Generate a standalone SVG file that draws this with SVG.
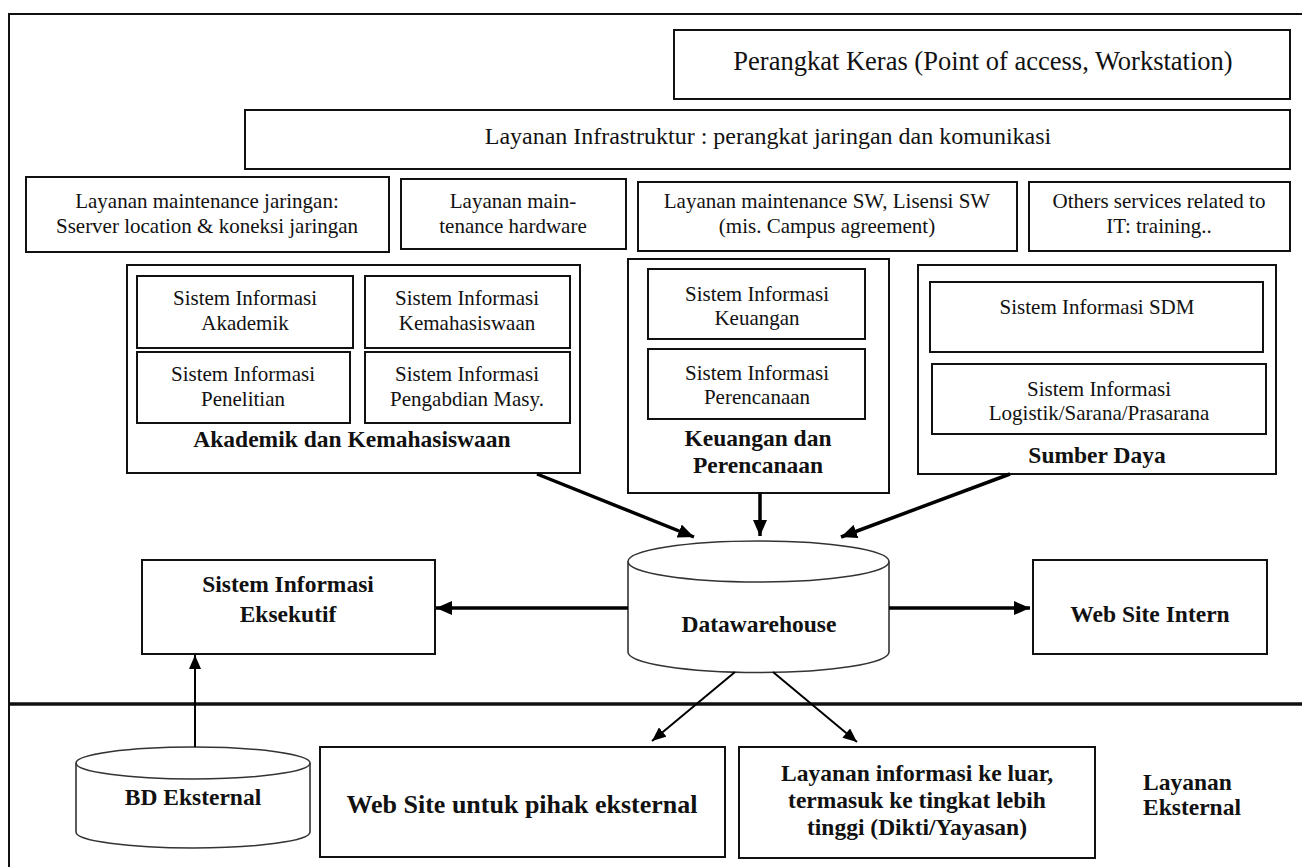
<svg xmlns="http://www.w3.org/2000/svg" width="1302" height="867" viewBox="0 0 1302 867">
<style>
  text { font-family: "Liberation Serif", "Times New Roman", serif; fill: #111; text-anchor: middle; }
  .r { font-size: 21px; }
  .b { font-size: 23.5px; font-weight: bold; }
  .box { fill: #fff; stroke: #111; stroke-width: 2; }
  .cyl { fill: #fff; stroke: #333; stroke-width: 1.6; }
  .thick { stroke: #000; stroke-width: 3.5; fill: none; marker-end: url(#ah); }
  .thin { stroke: #000; stroke-width: 2; fill: none; marker-end: url(#ahs); }
</style>
<defs>
  <marker id="ah" markerUnits="userSpaceOnUse" markerWidth="16" markerHeight="14" refX="16" refY="7" orient="auto">
    <path d="M0,0 L16,7 L0,14 z" fill="#000"/>
  </marker>
  <marker id="ahs" markerUnits="userSpaceOnUse" markerWidth="14" markerHeight="12" refX="14" refY="6" orient="auto">
    <path d="M0,0 L14,6 L0,12 z" fill="#000"/>
  </marker>
</defs>
<rect width="1302" height="867" fill="#fff"/>

<g id="frame" stroke="#111" fill="none">
  <path d="M9,867 V14 H1302" stroke-width="2"/>
  <line x1="9" y1="704" x2="1302" y2="704" stroke-width="3.5"/>
</g>

<g id="perangkat-keras">
  <rect class="box" x="674" y="30" width="616" height="69"/>
  <text class="r" x="983" y="70" style="font-size:26.5px">Perangkat Keras (Point of access, Workstation)</text>
</g>
<g id="layanan-infrastruktur">
  <rect class="box" x="245" y="110" width="1045" height="59"/>
  <text class="r" x="768" y="144" style="font-size:24px">Layanan Infrastruktur : perangkat jaringan dan komunikasi</text>
</g>
<g id="maint-jaringan">
  <rect class="box" x="26" y="177" width="363" height="75"/>
  <text class="r" x="207" y="208">Layanan maintenance jaringan:</text>
  <text class="r" x="207" y="233">Sserver location &amp; koneksi jaringan</text>
</g>
<g id="maint-hardware">
  <rect class="box" x="401" y="179" width="225" height="70"/>
  <text class="r" x="513" y="208">Layanan main-</text>
  <text class="r" x="513" y="233">tenance hardware</text>
</g>
<g id="maint-sw">
  <rect class="box" x="638" y="182" width="379" height="69"/>
  <text class="r" x="827" y="208">Layanan maintenance SW, Lisensi SW</text>
  <text class="r" x="827" y="233">(mis. Campus agreement)</text>
</g>
<g id="others">
  <rect class="box" x="1029" y="182" width="261" height="69"/>
  <text class="r" x="1159" y="208">Others services related to</text>
  <text class="r" x="1159" y="233">IT: training..</text>
</g>

<g id="akademik">
  <rect class="box" x="127" y="265" width="453" height="208"/>
  <g id="si-akademik">
    <rect class="box" x="137" y="276" width="216" height="72"/>
    <text class="r" x="245" y="305">Sistem Informasi</text>
    <text class="r" x="245" y="330">Akademik</text>
  </g>
  <g id="si-kemahasiswaan">
    <rect class="box" x="365" y="276" width="205" height="72"/>
    <text class="r" x="467" y="305">Sistem Informasi</text>
    <text class="r" x="467" y="330">Kemahasiswaan</text>
  </g>
  <g id="si-penelitian">
    <rect class="box" x="137" y="352" width="213" height="71"/>
    <text class="r" x="243" y="381">Sistem Informasi</text>
    <text class="r" x="243" y="406">Penelitian</text>
  </g>
  <g id="si-pengabdian">
    <rect class="box" x="365" y="352" width="205" height="71"/>
    <text class="r" x="467" y="381">Sistem Informasi</text>
    <text class="r" x="467" y="406">Pengabdian Masy.</text>
  </g>
  <text class="b" x="352" y="447">Akademik dan Kemahasiswaan</text>
</g>

<g id="keuangan">
  <rect class="box" x="628" y="259" width="261" height="234"/>
  <g id="si-keuangan">
    <rect class="box" x="648" y="269" width="217" height="70"/>
    <text class="r" x="757" y="301">Sistem Informasi</text>
    <text class="r" x="757" y="325">Keuangan</text>
  </g>
  <g id="si-perencanaan">
    <rect class="box" x="648" y="349" width="217" height="70"/>
    <text class="r" x="757" y="380">Sistem Informasi</text>
    <text class="r" x="757" y="404">Perencanaan</text>
  </g>
  <text class="b" x="758" y="446">Keuangan dan</text>
  <text class="b" x="758" y="473">Perencanaan</text>
</g>

<g id="sumber-daya">
  <rect class="box" x="918" y="265" width="358" height="209"/>
  <g id="si-sdm">
    <rect class="box" x="930" y="282" width="333" height="70"/>
    <text class="r" x="1097" y="314">Sistem Informasi SDM</text>
  </g>
  <g id="si-logistik">
    <rect class="box" x="932" y="364" width="334" height="70"/>
    <text class="r" x="1099" y="396">Sistem Informasi</text>
    <text class="r" x="1099" y="420">Logistik/Sarana/Prasarana</text>
  </g>
  <text class="b" x="1097" y="463">Sumber Daya</text>
</g>

<g id="datawarehouse">
  <path class="cyl" d="M628,561.5 V652 A130.5,20.5 0 0 0 889,652 V561.5"/>
  <ellipse class="cyl" cx="758.5" cy="561.5" rx="130.5" ry="20.5"/>
  <text class="b" x="759" y="632">Datawarehouse</text>
</g>

<g id="si-eksekutif">
  <rect class="box" x="142" y="560" width="293" height="94"/>
  <text class="b" x="288" y="592">Sistem Informasi</text>
  <text class="b" x="288" y="622">Eksekutif</text>
</g>

<g id="web-site-intern">
  <rect class="box" x="1033" y="560" width="234" height="94"/>
  <text class="b" x="1150" y="622">Web Site Intern</text>
</g>

<g id="bd-eksternal">
  <path class="cyl" d="M76,763 V832 A117,16 0 0 0 310,832 V763"/>
  <ellipse class="cyl" cx="193" cy="763" rx="117" ry="16"/>
  <text class="b" x="193" y="805">BD Eksternal</text>
</g>

<g id="web-site-eksternal">
  <rect class="box" x="320" y="747" width="405" height="110"/>
  <text class="b" x="522" y="813" style="font-size:26px">Web Site untuk pihak eksternal</text>
</g>

<g id="layanan-informasi">
  <rect class="box" x="739" y="747" width="356" height="111"/>
  <text class="b" x="917" y="781">Layanan informasi ke luar,</text>
  <text class="b" x="917" y="808">termasuk ke tingkat lebih</text>
  <text class="b" x="917" y="835">tinggi (Dikti/Yayasan)</text>
</g>

<g id="layanan-eksternal-label">
  <text class="b" x="1143" y="790" style="text-anchor:start">Layanan</text>
  <text class="b" x="1143" y="815" style="text-anchor:start">Eksternal</text>
</g>

<g id="connectors">
  <line class="thick" x1="537" y1="474" x2="694" y2="537"/>
  <line class="thick" x1="760" y1="493" x2="760" y2="536"/>
  <line class="thick" x1="1010" y1="474" x2="841" y2="537"/>
  <line class="thick" x1="628" y1="608" x2="436" y2="608"/>
  <line class="thick" x1="889" y1="608" x2="1030" y2="608"/>
  <line class="thin" x1="195" y1="747" x2="195" y2="655"/>
  <line class="thin" x1="735" y1="672" x2="652" y2="741"/>
  <line class="thin" x1="773" y1="672" x2="857" y2="742"/>
</g>
</svg>
